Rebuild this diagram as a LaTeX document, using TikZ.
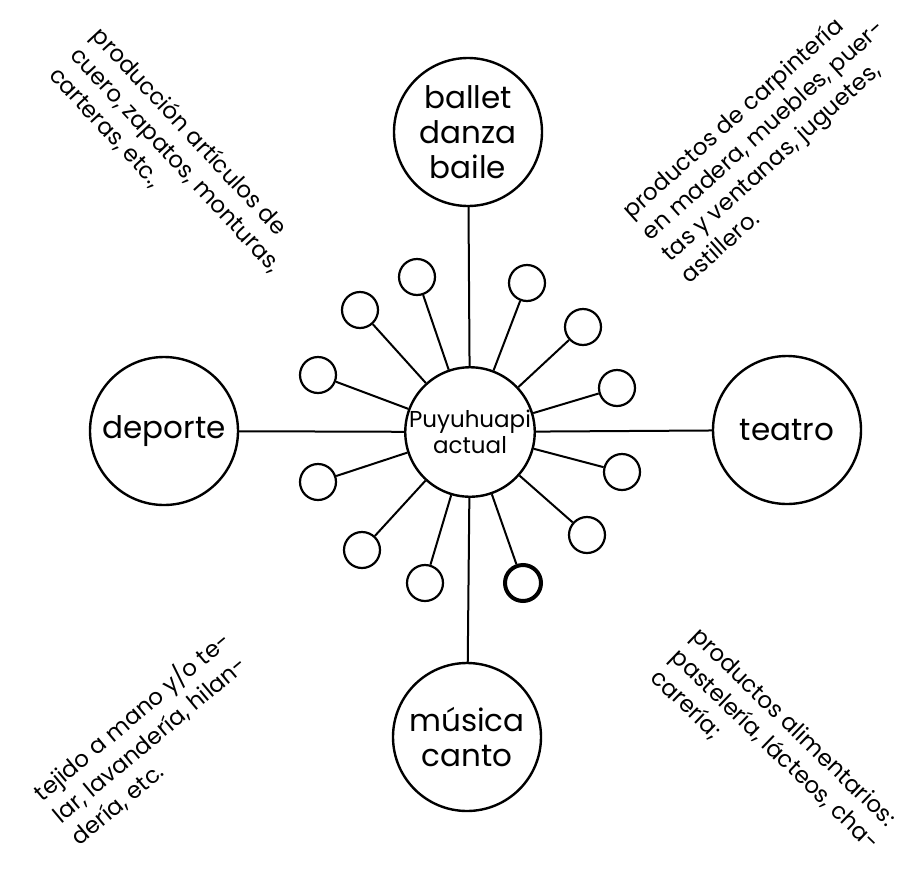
\documentclass[tikz,border=0pt]{standalone}
\usepackage{fontspec}
\setmainfont{Poppins}
\begin{document}
\begin{tikzpicture}[x=0.5pt,y=-0.5pt,
  hub/.style={circle,draw,line width=1.2pt,minimum size=60pt,inner sep=0pt,align=center,font=\fontsize{11.5}{13}\selectfont},
  topic/.style={circle,draw,line width=1.2pt,minimum size=74pt,inner sep=0pt,align=center,font=\fontsize{15.5}{17.5}\selectfont},
  dot/.style={circle,draw,line width=1.1pt,minimum size=18pt,inner sep=0pt},
  thickdot/.style={dot,line width=2pt},
  note/.style={align=left,inner sep=0pt,font=\fontsize{11.5}{14.5}\selectfont},
  spoke/.style={line width=1pt}]
\useasboundingbox (0,0) rectangle (905,868);
% hub and topics
\node[hub] (c) at (470,432) {Puyuhuapi\\actual};
\node[topic] (ballet) at (468,132) {ballet\\danza\\baile};
\node[topic] (musica) at (467,737) {música\\canto};
\node[topic] (deporte) at (164,431) {deporte};
\node[topic] (teatro) at (787,430) {teatro};
% small circles
\node[dot] (s1) at (417,277) {};
\node[dot] (s2) at (360,310) {};
\node[dot] (s3) at (318,375) {};
\node[dot] (s4) at (318,482) {};
\node[dot] (s5) at (362,550) {};
\node[dot] (s6) at (425,583) {};
\node[thickdot] (s7) at (523,583) {};
\node[dot] (s8) at (587,535) {};
\node[dot] (s9) at (622,472) {};
\node[dot] (s10) at (617,388) {};
\node[dot] (s11) at (583,327) {};
\node[dot] (s12) at (527,283) {};
% spokes
\foreach \t in {ballet,musica,deporte,teatro,s1,s2,s3,s4,s5,s6,s7,s8,s9,s10,s11,s12}
  \draw[spoke] (c) -- (\t);
% notes
\node[note,rotate=-47] (n1) at (176,160) {producción artículos de\\cuero, zapatos, monturas,\\carteras, etc.,};
\node[note,rotate=42] (n2) at (772,140) {productos de carpintería\\en madera, muebles, puer-\\tas y ventanas, juguetes,\\astillero.};
\node[note,rotate=40] (n3) at (150,738) {tejido a mano y/o te-\\lar, lavandería, hilan-\\dería, etc.};
\node[note,rotate=-44] (n4) at (775,750) {productos alimentarios:\\pastelería, lácteos, cha-\\carería;};
\end{tikzpicture}
\end{document}
